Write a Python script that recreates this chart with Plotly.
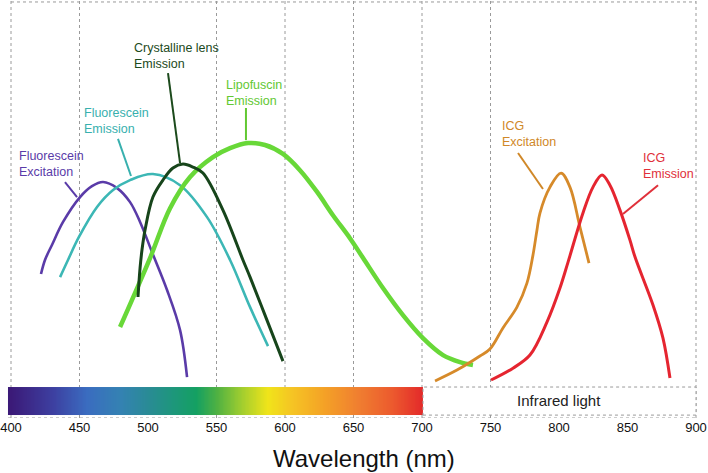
import numpy as np
import plotly.graph_objects as go

# ---------------- data (wavelength nm, relative intensity) ----------------
fex_nm = [421.9, 424.8, 429.9, 438.0, 450.4, 459.1, 467.2, 477.4, 486.9, 494.2, 502.9, 513.9, 523.4, 528.5]
fex_v  = [45.9, 51.7, 57.9, 67.4, 77.7, 82.2, 83.9, 81.4, 75.6, 67.4, 55.0, 39.3, 22.7, 3.3]

fem_nm = [435.8, 441.6, 449.6, 462.8, 474.5, 486.9, 503.6, 523.4, 543.1, 559.9, 574.5, 587.6]
fem_v  = [44.6, 51.7, 61.2, 73.6, 80.6, 84.7, 87.2, 82.6, 69.4, 51.7, 32.2, 16.1]

lens_nm = [492.7, 494.2, 495.6, 497.8, 503.6, 510.9, 518.2, 525.5, 532.8, 540.1, 554.7, 569.3, 574.5, 585.4, 598.5]
lens_v  = [36.4, 48.3, 55.8, 64.0, 77.7, 84.7, 89.7, 91.3, 90.1, 87.6, 72.3, 51.7, 44.6, 28.9, 9.9]

lipo_nm = [479.6, 501.5, 516.1, 530.7, 547.4, 559.9, 573.0, 585.4, 598.5, 610.9, 623.4, 635.0, 647.4,
           657.0, 671.5, 686.1, 700.7, 715.3, 727.7, 737.2]
lipo_v  = [24.0, 52.5, 73.1, 86.0, 94.2, 97.9, 100.0, 99.2, 95.5, 88.8, 79.8, 70.2, 60.7,
           52.5, 40.1, 28.9, 19.4, 12.4, 9.5, 8.3]

icgx_nm = [709.5, 725.5, 742.3, 749.6, 759.1, 769.3, 776.6, 781.0, 783.9, 786.1, 793.4, 801.5, 808.0, 815.3, 821.9]
icgx_v  = [1.7, 6.2, 12.0, 14.9, 23.6, 32.2, 42.1, 53.7, 64.0, 71.1, 81.8, 87.6, 81.8, 65.3, 50.4]

icge_nm = [750.4, 766.4, 778.8, 791.2, 800.7, 806.6, 817.5, 824.8, 831.4, 837.2, 844.5, 851.8, 855.5, 868.6, 875.9, 881.0]
icge_v  = [2.1, 7.0, 12.4, 26.0, 40.1, 50.8, 71.1, 81.8, 86.8, 82.6, 72.3, 59.9, 52.9, 33.1, 19.4, 2.9]

tick_vals = [400, 450, 500, 550, 600, 650, 700, 750, 800, 850, 900]
tick_text = [str(v) for v in tick_vals]
grid_nm = [400, 450, 550, 600, 650, 700, 750, 900]

# spectrum colour stops (wavelength -> colour)
spec_nm = [400, 430, 455, 480, 500, 520, 535, 550, 567, 587, 605, 628, 652, 678, 700]
spec_col = ["#3b1a78", "#3d3fa0", "#3a6cc0", "#3482b2", "#298b95", "#1c9878", "#14a062", "#4fb142",
            "#9ccc30", "#f0e41a", "#f5c424", "#f4a226", "#f08030", "#ec5a2e", "#e32a2a"]

# ---------------- figure ----------------
X0 = 400 - 11 / 1.37
X1 = X0 + 708 / 1.37
Y0, Y1 = -13.6, 158.7

fig = go.Figure()

# spectrum bar
bar_x = np.arange(398.3, 701.0, 1.0)
cs = [[(n - 400) / 300, c] for n, c in zip(spec_nm, spec_col)]
fig.add_trace(go.Heatmap(
    z=[list(np.clip(bar_x, 400, 700))], x0=bar_x[0], dx=1.0, y0=-6.6, dy=11.6,
    colorscale=cs, zmin=400, zmax=700, showscale=False, zsmooth="best", hoverinfo="skip"))

series = [
    (fex_nm, fex_v, "#5a3ba8", 2.6, "Fluorescein Excitation"),
    (fem_nm, fem_v, "#3cb7b5", 2.6, "Fluorescein Emission"),
    (lipo_nm, lipo_v, "#68d838", 4.5, "Lipofuscin Emission"),
    (lens_nm, lens_v, "#17451b", 3.0, "Crystalline lens Emission"),
    (icgx_nm, icgx_v, "#d68a2a", 2.8, "ICG Excitation"),
    (icge_nm, icge_v, "#e52530", 3.0, "ICG Emission"),
]
for xs, ys, col, w, name in series:
    fig.add_trace(go.Scatter(x=xs, y=ys, mode="lines", name=name,
                             line=dict(color=col, width=w, shape="spline", smoothing=1.0)))

shapes = []
grid_style = dict(color="#9a9a9a", width=1, dash="dot")
for g in grid_nm:
    shapes.append(dict(type="line", xref="x", yref="y", x0=g, x1=g, y0=-13.6, y1=Y1,
                       line=grid_style, layer="below"))
# top border and bottom line
shapes.append(dict(type="line", xref="x", yref="y", x0=400, x1=900, y0=158.3, y1=158.3,
                   line=grid_style, layer="below"))
shapes.append(dict(type="line", xref="x", yref="y", x0=397.8, x1=900, y0=-13.6, y1=-13.6,
                   line=grid_style, layer="above"))
# infrared box
shapes.append(dict(type="rect", xref="x", yref="y", x0=700.7, x1=900, y0=-12.4, y1=-0.8,
                   line=grid_style, fillcolor="white", layer="above"))

labels = [
    ("Fluorescein<br>Excitation", 404.4, 91.3, "#5a3ba8", (439.4, 83.9, 448.2, 77.7)),
    ("Fluorescein<br>Emission", 451.8, 109.1, "#38b0ae", (478.1, 101.7, 487.6, 86.4)),
    ("Crystalline lens<br>Emission", 488.3, 136.0, "#1c4a1c", (514.6, 128.9, 523.4, 91.7)),
    ("Lipofuscin<br>Emission", 555.5, 120.7, "#62c832", (571.5, 114.5, 571.5, 101.2)),
    ("ICG<br>Excitation", 756.9, 103.7, "#d08828", (770.1, 95.9, 788.3, 81.0)),
    ("ICG<br>Emission", 859.9, 90.5, "#e0303a", (872.3, 82.6, 846.7, 70.7)),
]
annotations = []
for txt, lx, ly, col, (ax0, ay0, ax1, ay1) in labels:
    annotations.append(dict(text=txt, x=lx, y=ly, xref="x", yref="y", xanchor="left", yanchor="middle",
                            align="left", showarrow=False,
                            font=dict(family="Liberation Sans, Arial", size=12.5, color=col)))
    shapes.append(dict(type="line", xref="x", yref="y", x0=ax0, y0=ay0, x1=ax1, y1=ay1,
                       line=dict(color=col, width=2)))

annotations.append(dict(text="Infrared light", x=800, y=-6.4, xref="x", yref="y", showarrow=False,
                        xanchor="center", yanchor="middle",
                        font=dict(family="Liberation Sans, Arial", size=15, color="#222222")))
annotations.append(dict(text="Wavelength (nm)", x=363.5 / 708, y=-0.096, xref="paper", yref="paper",
                        showarrow=False, xanchor="center", yanchor="middle",
                        font=dict(family="Liberation Sans, Arial", size=24, color="#111111")))

fig.update_layout(
    width=708, height=473,
    margin=dict(l=0, r=0, t=1, b=55, pad=0, autoexpand=False),
    paper_bgcolor="white", plot_bgcolor="white",
    showlegend=False,
    shapes=shapes, annotations=annotations,
    xaxis=dict(range=[X0, X1], tickvals=tick_vals, ticktext=tick_text, showgrid=False,
               zeroline=False, showline=False, ticks="", automargin=False,
               tickfont=dict(family="Liberation Sans, Arial", size=13, color="#111111")),
    yaxis=dict(range=[Y0, Y1], visible=False, showgrid=False, zeroline=False, automargin=False),
)

fig.write_html("out.html", config={"displayModeBar": False},
               post_script="document.body.style.margin='0';document.body.style.overflow='hidden';")
